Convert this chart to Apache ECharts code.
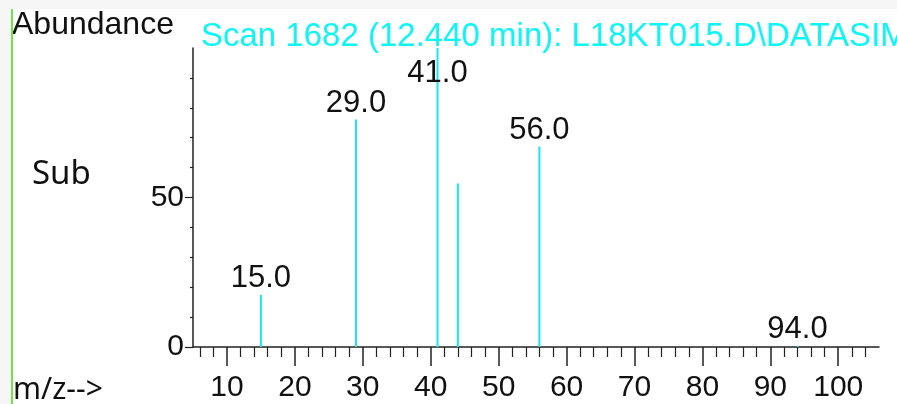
<!DOCTYPE html>
<html>
<head>
<meta charset="utf-8">
<script src="https://cdn.jsdelivr.net/npm/echarts@6/dist/echarts.min.js"></script>
<style>
  html, body { margin: 0; padding: 0; background: #ffffff; }
  #chart { width: 897px; height: 404px; }
</style>
</head>
<body>
<div id="chart"></div>
<script>
// Mass spectrum peaks: m/z and relative abundance (%)
const mzValues = [15, 29, 41, 44, 56, 94];
const abundance = [17.4, 76.1, 100, 54.7, 67.0, 0.4];
// Peaks that carry an m/z label
const labelledPeaks = [15, 29, 41, 56, 94];

// Axis ticks and labels
const xMajorTicks = [10, 20, 30, 40, 50, 60, 70, 80, 90, 100];
const xMinorTicks = [6, 8, 12, 14, 16, 18, 22, 24, 26, 28, 32, 34, 36, 38, 42, 44, 46, 48,
  52, 54, 56, 58, 62, 64, 66, 68, 72, 74, 76, 78, 82, 84, 86, 88, 92, 94, 96, 98, 102, 104];
const yMajorTicks = [0, 50];
const yMinorTicks = [10, 20, 30, 40, 60, 70, 80, 90];

const titleText = 'Scan 1682 (12.440 min): L18KT015.D\\DATASIM.MS';
const FONT = '"Liberation Sans", Arial, sans-serif';
const PEAK_COLOR = '#18e6ee';

const chart = echarts.init(document.getElementById('chart'), null, { renderer: 'canvas' });

const peakData = mzValues.map((mz, i) => {
  const item = { value: [mz, abundance[i]] };
  if (mz === 41) {
    item.label = { position: 'insideTop', distance: 10 };
  }
  return item;
});

const axisCommon = {
  type: 'value',
  splitLine: { show: false },
  axisPointer: { show: false }
};

chart.setOption({
  animation: false,
  backgroundColor: '#ffffff',
  title: {
    text: titleText,
    left: 196,
    top: 15,
    textStyle: { color: '#10f4f4', fontSize: 33, fontWeight: 'normal', fontFamily: FONT }
  },
  grid: { left: 193, top: 48, right: 18, bottom: 57, containLabel: false, outerBoundsMode: 'none' },
  xAxis: [
    Object.assign({}, axisCommon, {
      position: 'bottom', min: 5, max: 106,
      axisLine: { show: true, lineStyle: { color: '#222', width: 1.5 } },
      axisTick: { show: true, customValues: xMajorTicks, length: 19, lineStyle: { color: '#222', width: 1.5 } },
      axisLabel: { show: true, customValues: xMajorTicks, fontSize: 30, color: '#111', fontFamily: FONT, margin: 26 }
    }),
    Object.assign({}, axisCommon, {
      position: 'bottom', min: 5, max: 106, offset: 0,
      axisLine: { show: false },
      axisTick: { show: true, customValues: xMinorTicks, length: 10, lineStyle: { color: '#222', width: 1.2 } },
      axisLabel: { show: false }
    })
  ],
  yAxis: [
    Object.assign({}, axisCommon, {
      position: 'left', min: 0, max: 100,
      axisLine: { show: true, lineStyle: { color: '#222', width: 1.5 } },
      axisTick: { show: true, customValues: yMajorTicks, length: 8, lineStyle: { color: '#222', width: 1.2 } },
      axisLabel: { show: true, customValues: yMajorTicks, fontSize: 30, color: '#111', fontFamily: FONT, margin: 9 }
    }),
    Object.assign({}, axisCommon, {
      position: 'left', min: 0, max: 100, offset: 0,
      axisLine: { show: false },
      axisTick: { show: true, customValues: yMinorTicks, length: 3, lineStyle: { color: '#222', width: 1.2 } },
      axisLabel: { show: false }
    })
  ],
  series: [{
    type: 'bar',
    xAxisIndex: 0,
    yAxisIndex: 0,
    barWidth: 2,
    itemStyle: { color: PEAK_COLOR },
    label: {
      show: true,
      position: 'top',
      distance: 1,
      fontSize: 31,
      color: '#111',
      fontFamily: FONT,
      formatter: p => labelledPeaks.includes(p.value[0]) ? p.value[0].toFixed(1) : ''
    },
    data: peakData
  }],
  graphic: [
    { type: 'rect', silent: true, z: -10, shape: { x: 0, y: 0, width: 897, height: 9 }, style: { fill: '#f6f6f6' } },
    { type: 'rect', silent: true, z: -10, shape: { x: 0, y: 0, width: 11, height: 404 }, style: { fill: '#f6f6f6' } },
    { type: 'rect', silent: true, z: 10, shape: { x: 11, y: 9, width: 2, height: 395 }, style: { fill: '#6ee64a' } },
    { type: 'text', left: 12, top: 9, style: { text: 'Abundance', fill: '#111', font: '32px ' + FONT } },
    { type: 'text', left: 32, top: 158, style: { text: 'Sub', fill: '#111', font: '33px "Noto Sans", "DejaVu Sans", sans-serif' } },
    { type: 'text', left: 13, top: 375, style: { text: 'm/z-->', fill: '#111', font: '30px "Noto Sans", "DejaVu Sans", sans-serif' } }
  ]
});
</script>
</body>
</html>
